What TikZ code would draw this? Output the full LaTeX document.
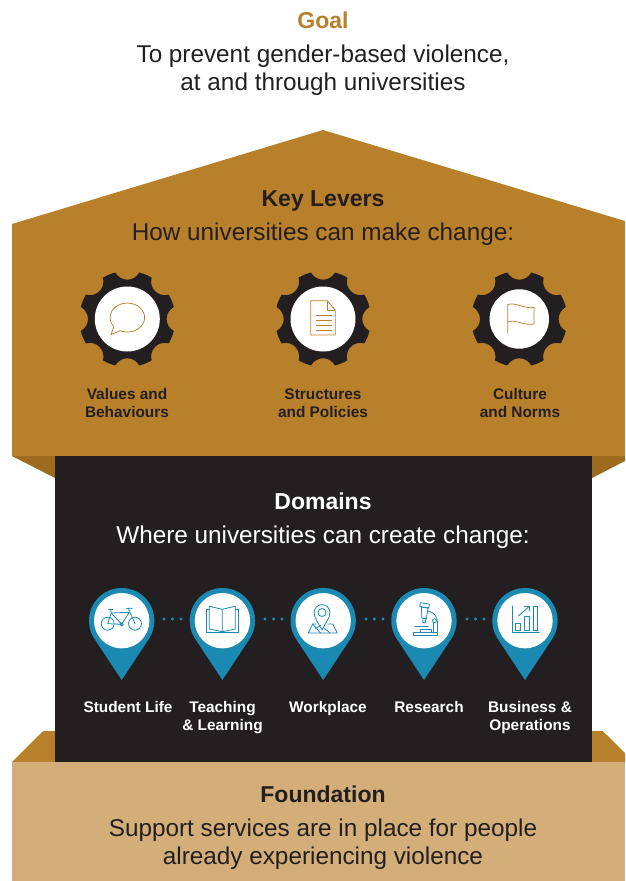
\documentclass[tikz,border=0pt]{standalone}
\usepackage{fontspec}
\setmainfont{Liberation Sans}
\definecolor{gold}{HTML}{B9802B}
\definecolor{golddark}{HTML}{9C6B1D}
\definecolor{ink}{HTML}{231F20}
\definecolor{teal}{HTML}{1B8AB3}
\definecolor{tan}{HTML}{D3AE78}
\tikzset{
  txt/.style={inner sep=0pt,outer sep=0pt,anchor=base,align=center},
  head/.style={txt,font=\fontsize{23}{28}\selectfont\bfseries},
  body/.style={txt,font=\fontsize{24.3}{28}\selectfont},
  small/.style={txt,font=\fontsize{15.4}{18}\selectfont\bfseries},
  goldline/.style={draw=gold,line width=0.75pt,line join=round,fill=none},
  tealline/.style={draw=teal,line width=0.8pt,line join=round,line cap=round,fill=none},
  gearpic/.pic={
    \fill[ink] (-14.5:48)
      \foreach \a in {0,45,...,315}{
        .. controls (\a-10:37.5) and (\a+10:37.5) .. (\a+14.5:48)
        arc[start angle=\a+14.5,end angle=\a+30.5,radius=48]
      } -- cycle;
  },
  pinpic/.pic={
    \fill[teal] (-27.3,18) arc[start angle=146.6,end angle=393.4,radius=32.7] -- (0,59.3) -- cycle;
    \fill[white] (0,0) circle[radius=27.7];
  }
}
\begin{document}
\begin{tikzpicture}[x=1pt,y=-1pt]
\useasboundingbox (0,0) rectangle (625,881);
% Body shapes
\fill[golddark] (12,456) -- (55,456) -- (55,478) -- cycle;
\fill[golddark] (592,456) -- (625,456) -- (625,461) -- (592,478) -- cycle;
\fill[gold] (323,130) -- (625,221) -- (625,456) -- (12,456) -- (12,224) -- cycle;
\fill[gold] (12,762) -- (43,731) -- (602.7,731) -- (625,753) -- (625,762) -- cycle;
\fill[ink] (55,456) rectangle (592,762);
\fill[tan] (12,762) rectangle (625,881);
% Goal
\node[head,text=gold] (goal) at (323,28.5) {Goal};
\node[body,text=ink] (goaltext) at (323,90) {To prevent gender-based violence,\\at and through universities};
% Levers
\node[head,text=ink] (levers) at (323,206) {Key Levers};
\node[body,text=ink] (leverstext) at (323,240) {How universities can make change:};
% Gears
\path (127.3,319) pic {gearpic};
\path (323,319) pic {gearpic};
\path (519.3,319) pic {gearpic};
\fill[white] (127.3,319) circle[radius=32.5];
\fill[white] (323,319) circle[radius=32.5];
\fill[white] (519.3,319) circle[radius=29.7];
% speech bubble
\draw[goldline] (120,330.7) arc[start angle=115,end angle=-219,x radius=17.3,y radius=14.5] -- (111,334.7) -- cycle;
% document
\draw[goldline] (310.7,300.7) -- (327,300.7) -- (335.3,310) -- (335.3,335) -- (310.7,335) -- cycle;
\draw[goldline] (327,300.7) -- (327,310) -- (335.3,310);
\foreach \yy in {315,320,325,330}{\draw[draw=gold,line width=0.9pt] (316,\yy) -- (332,\yy);}
% flag
\draw[goldline] (507.7,333.5) -- (507.7,304.5) .. controls (516,302) and (524,309) .. (534,307.5) -- (534,324)
  .. controls (524,326) and (516,319) .. (507.7,322);
% Lever captions
\node[small,text=ink] (values) at (127,417) {Values and\\Behaviours};
\node[small,text=ink] (structures) at (323,417) {Structures\\and Policies};
\node[small,text=ink] (culture) at (520,417) {Culture\\and Norms};
% Domains
\node[head,text=white] (domains) at (323,509) {Domains};
\node[body,text=white] (domainstext) at (323,543) {Where universities can create change:};
% Pins
\foreach \px in {121.7,222.4,323.2,424,525}{\path (\px,620.7) pic {pinpic};}
% Dots
\foreach \dx in {164,172.6,181,265,273.6,282,366,374.4,383,467,475.4,484}{\fill[teal] (\dx,619) circle[radius=1.7];}
% bike
\draw[tealline] (107.7,623.7) circle[radius=6.5];
\draw[tealline] (135,623.7) circle[radius=6.5];
\draw[tealline] (121.7,624.3) circle[radius=1.7];
\draw[tealline] (107.7,623.7) -- (111.2,613) -- (121.7,624.3) -- (107.7,623.7);
\draw[tealline] (111.2,613) -- (129.3,612.3) -- (121.7,624.3);
\draw[tealline] (108.5,609.3) -- (113,609.3);
\draw[tealline] (110.7,609.3) -- (111.2,613);
\draw[tealline] (135,623.7) -- (128.3,608.3) -- (132.5,608.3);
\draw[tealline] (126.5,608.3) -- (128.3,608.3);
% book
\draw[tealline] (209.3,609.3) -- (206,609.3) -- (206,632.3) -- (238.7,632.3) -- (238.7,609.3) -- (235.3,609.3);
\draw[tealline] (222.3,609.3) -- (209.3,606.2) -- (209.3,629) -- (222.3,631.7) -- (235.3,629) -- (235.3,606.2) -- (222.3,609.3) -- (222.3,631.7);
% map pin
\draw[tealline] (322,630) .. controls (318,622) and (314.1,618) .. (314.1,612.5) arc[start angle=180,end angle=360,radius=7.9] .. controls (329.9,618) and (326,622) .. (322,630) -- cycle;
\draw[tealline] (322,612.5) circle[radius=4];
\draw[tealline] (316,624) -- (312.7,624) -- (308.3,633) -- (337.3,633) -- (332.7,624) -- (328,624);
\draw[tealline] (312.7,624) -- (320.5,633);
\draw[tealline] (315,629) -- (320.5,625.5);
\draw[tealline] (324,628) -- (330,633);
% microscope
\draw[tealline] (420.3,602.7) -- (429.3,604) -- (428.8,608) -- (419.8,606.7) -- cycle;
\draw[tealline] (421.5,607) -- (428,608) -- (426.3,618.8) -- (421.8,618) -- cycle;
\draw[tealline] (423,618.5) -- (422.8,622.5) -- (425.3,622.7) -- (425.6,618.8);
\draw[tealline] (428,611) .. controls (433,612) and (437.5,616) .. (437.5,622) -- (437.5,632.3);
\draw[tealline] (434.5,620.7) circle[radius=2];
\draw[tealline] (433,622.5) -- (433,632.3);
\draw[tealline] (413.3,632.3) rectangle (437.5,635.7);
\draw[tealline] (415,626.3) -- (428.3,626.3);
\draw[tealline] (420,632.3) -- (420,629.3) -- (431,629.3) -- (431,632.3);
% chart
\draw[tealline] (512,606) -- (512,632.3) -- (539.3,632.3);
\draw[tealline] (515.3,623.3) rectangle (520,630.7);
\draw[tealline] (524.3,616) rectangle (529,630.7);
\draw[tealline] (533.3,606) rectangle (537.7,630.7);
\draw[tealline] (518.3,616) -- (529,606.7);
\draw[tealline] (524.5,606.7) -- (529,606.7) -- (529,611);
% Domain captions
\node[small,text=white] (student) at (128,712) {Student Life};
\node[small,text=white] (teaching) at (222.5,730) {Teaching\\\& Learning};
\node[small,text=white] (workplace) at (328,712) {Workplace};
\node[small,text=white] (research) at (429,712) {Research};
\node[small,text=white] (business) at (530,730) {Business \&\\Operations};
% Foundation
\node[head,text=ink] (foundation) at (323,802) {Foundation};
\node[body,text=ink] (foundationtext) at (323,864) {Support services are in place for people\\already experiencing violence};
\end{tikzpicture}
\end{document}
